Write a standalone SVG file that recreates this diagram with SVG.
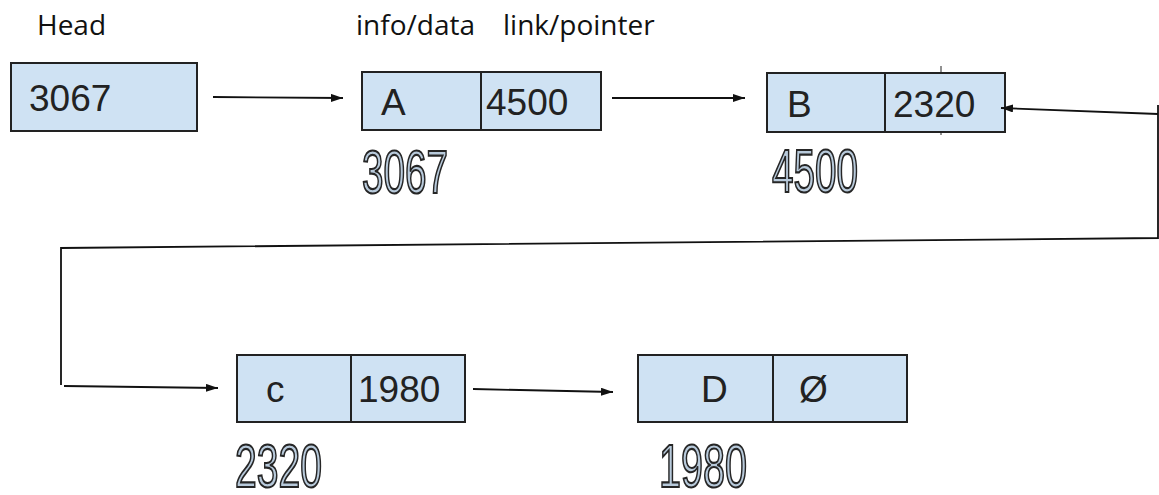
<svg xmlns="http://www.w3.org/2000/svg" width="1159" height="495" viewBox="0 0 1159 495">
  <style>
    .cell { fill: #cfe2f3; stroke: #222; stroke-width: 2; }
    .div { stroke: #222; stroke-width: 2; }
    .val { font-family: "Liberation Sans", Arial, sans-serif; font-size: 37px; fill: #222; }
    .cap { font-family: "Open Sans", "Noto Sans", sans-serif; font-size: 28px; fill: #111; }
    .addr { font-family: "Liberation Sans Narrow", "Liberation Sans", Arial, sans-serif; font-size: 61px; fill: #b8cadb; stroke: #262626; stroke-width: 2.2; }
    .wire { fill: none; stroke: #111; stroke-width: 1.8; }
    .tick { stroke: #222; stroke-width: 1; }
  </style>
  <defs>
    <marker id="head" viewBox="0 0 12 8" refX="12" refY="4" markerWidth="12" markerHeight="8" markerUnits="userSpaceOnUse" orient="auto">
      <path d="M0,0 L12,4 L0,8 Z" fill="#111"/>
    </marker>
  </defs>

  <!-- column captions -->
  <g id="captions">
    <text class="cap" x="37" y="35">Head</text>
    <text class="cap" x="356" y="35">info/data</text>
    <text class="cap" x="503" y="35">link/pointer</text>
  </g>

  <!-- head pointer -->
  <g id="head-ptr">
    <rect class="cell" x="11" y="63" width="186" height="68"/>
    <text class="val" x="29" y="111">3067</text>
  </g>

  <!-- node A at 3067 -->
  <g id="node-a">
    <rect class="cell" x="362" y="72" width="239" height="58"/>
    <line class="div" x1="481" y1="72" x2="481" y2="130"/>
    <text class="val" x="381" y="115">A</text>
    <text class="val" x="486" y="115">4500</text>
    <text class="addr" x="362" y="193" textLength="86" lengthAdjust="spacingAndGlyphs">3067</text>
  </g>

  <!-- node B at 4500 -->
  <g id="node-b">
    <rect class="cell" x="767" y="73" width="238" height="59"/>
    <line class="div" x1="885" y1="73" x2="885" y2="132"/>
    <line class="tick" x1="941" y1="66" x2="941" y2="73"/>
    <line class="tick" x1="941" y1="132" x2="941" y2="135"/>
    <text class="val" x="787" y="117">B</text>
    <text class="val" x="893" y="117">2320</text>
    <text class="addr" x="772" y="192" textLength="86" lengthAdjust="spacingAndGlyphs">4500</text>
  </g>

  <!-- node c at 2320 -->
  <g id="node-c">
    <rect class="cell" x="237" y="355" width="228" height="67"/>
    <line class="div" x1="351" y1="355" x2="351" y2="422"/>
    <text class="val" x="266" y="402">c</text>
    <text class="val" x="358" y="402">1980</text>
    <text class="addr" x="235" y="487" textLength="87" lengthAdjust="spacingAndGlyphs">2320</text>
  </g>

  <!-- node D at 1980 (end of list) -->
  <g id="node-d">
    <rect class="cell" x="638" y="355" width="269" height="67"/>
    <line class="div" x1="773" y1="355" x2="773" y2="422"/>
    <text class="val" x="701" y="402">D</text>
    <text class="val" x="799" y="402">Ø</text>
    <text class="addr" x="659" y="487" textLength="88" lengthAdjust="spacingAndGlyphs">1980</text>
  </g>

  <!-- links -->
  <g id="connectors">
    <path class="wire" d="M213,97 L343,98" marker-end="url(#head)"/>
    <path class="wire" d="M612,98 L745,98" marker-end="url(#head)"/>
    <path class="wire" d="M1158,114 L1001,108" marker-end="url(#head)"/>
    <path class="wire" d="M1158,105 L1158,238 L61,248 L61,385"/>
    <path class="wire" d="M64,386 L218,388" marker-end="url(#head)"/>
    <path class="wire" d="M473,389 L613,392" marker-end="url(#head)"/>
  </g>
</svg>
